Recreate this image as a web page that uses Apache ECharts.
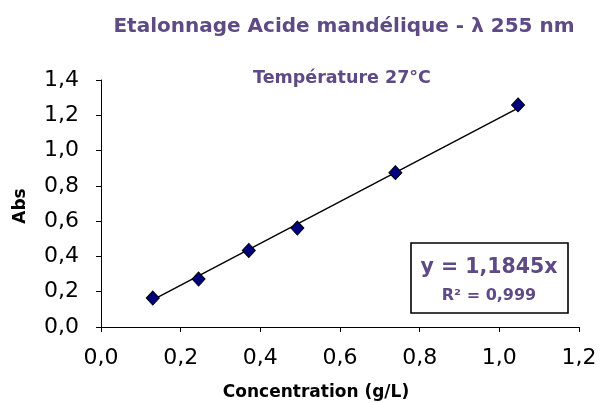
<!DOCTYPE html>
<html>
<head>
<meta charset="utf-8">
<script src="https://cdn.jsdelivr.net/npm/echarts@6/dist/echarts.min.js"></script>
<style>
html,body{margin:0;padding:0;background:#fff;}
#chart{width:600px;height:403px;}
</style>
</head>
<body>
<div id="chart"></div>
<script>
// Data
var concentration = [0.130, 0.245, 0.371, 0.493, 0.739, 1.047];
var absorbance   = [0.164, 0.272, 0.434, 0.561, 0.875, 1.259];
// Trend line end points (y = 1,1845x)
var trendX = [0.130, 1.047];
var trendY = [0.154, 1.240];
var xTicks = ['0,0','0,2','0,4','0,6','0,8','1,0','1,2'];
var yTicks = ['0,0','0,2','0,4','0,6','0,8','1,0','1,2','1,4'];
var titleText = 'Etalonnage Acide mandélique - λ 255 nm';
var subtitleText = 'Température 27°C';
var xName = 'Concentration (g/L)';
var yName = 'Abs';
var eqText = 'y = 1,1845x';
var r2Text = 'R² = 0,999';

var purple = '#5E4A85';
var font = '"DejaVu Sans", "Liberation Sans", Arial, sans-serif';

function fmt(v){ return v.toFixed(1).replace('.', ','); }

var pts = concentration.map(function(x, i){ return [x, absorbance[i]]; });
var trend = trendX.map(function(x, i){ return [x, trendY[i]]; });

var chart = echarts.init(document.getElementById('chart'), null, {renderer:'canvas'});
chart.setOption({
  animation: false,
  backgroundColor: '#ffffff',
  grid: {left: 101, right: 21, top: 80, bottom: 76, containLabel: false},
  xAxis: {
    type: 'value', min: 0, max: 1.2, interval: 0.2,
    axisLine: {show: true, onZero: false, lineStyle: {color: '#000', width: 1}},
    axisTick: {show: true, inside: false, length: 5, lineStyle: {color: '#000'}},
    splitLine: {show: false},
    axisLabel: {margin: 20, color: '#000', fontSize: 22, fontFamily: font,
      formatter: function(v){ var i = Math.round(v / 0.2); return xTicks[i] !== undefined ? xTicks[i] : fmt(v); }}
  },
  yAxis: {
    type: 'value', min: 0, max: 1.4, interval: 0.2,
    axisLine: {show: true, onZero: false, lineStyle: {color: '#000', width: 1}},
    axisTick: {show: true, inside: false, length: 5, lineStyle: {color: '#000'}},
    splitLine: {show: false},
    axisLabel: {margin: 22, color: '#000', fontSize: 22, fontFamily: font,
      formatter: function(v){ var i = Math.round(v / 0.2); return yTicks[i] !== undefined ? yTicks[i] : fmt(v); }}
  },
  series: [
    {
      type: 'line', data: trend, showSymbol: false, symbol: 'none', silent: true,
      lineStyle: {color: '#000', width: 1.4}, z: 2
    },
    {
      type: 'scatter', data: pts, symbol: 'diamond', symbolSize: [13, 14],
      itemStyle: {color: '#000080', borderColor: '#000', borderWidth: 1, opacity: 1}, z: 3
    }
  ],
  graphic: [
    {type: 'text', x: 344, y: 27, style: {text: titleText, font: 'bold 20px ' + font, fill: purple, align: 'center', verticalAlign: 'middle'}},
    {type: 'text', x: 342, y: 78, style: {text: subtitleText, font: 'bold 17.5px ' + font, fill: purple, align: 'center', verticalAlign: 'middle'}},
    {type: 'text', x: 316, y: 393, style: {text: xName, font: 'bold 17px ' + font, fill: '#000', align: 'center', verticalAlign: 'middle'}},
    {type: 'text', x: 21, y: 206, rotation: Math.PI / 2, style: {text: yName, font: 'bold 17px ' + font, fill: '#000', align: 'center', verticalAlign: 'middle'}},
    {type: 'rect', shape: {x: 411, y: 243, width: 157, height: 70}, style: {fill: '#fff', stroke: '#000', lineWidth: 1.6}, z: 10},
    {type: 'text', x: 489, y: 268, z: 11, style: {text: eqText, font: 'bold 20.5px ' + font, fill: purple, align: 'center', verticalAlign: 'middle'}},
    {type: 'text', x: 489, y: 296, z: 11, style: {text: r2Text, font: 'bold 16px ' + font, fill: purple, align: 'center', verticalAlign: 'middle'}}
  ]
});
</script>
</body>
</html>
